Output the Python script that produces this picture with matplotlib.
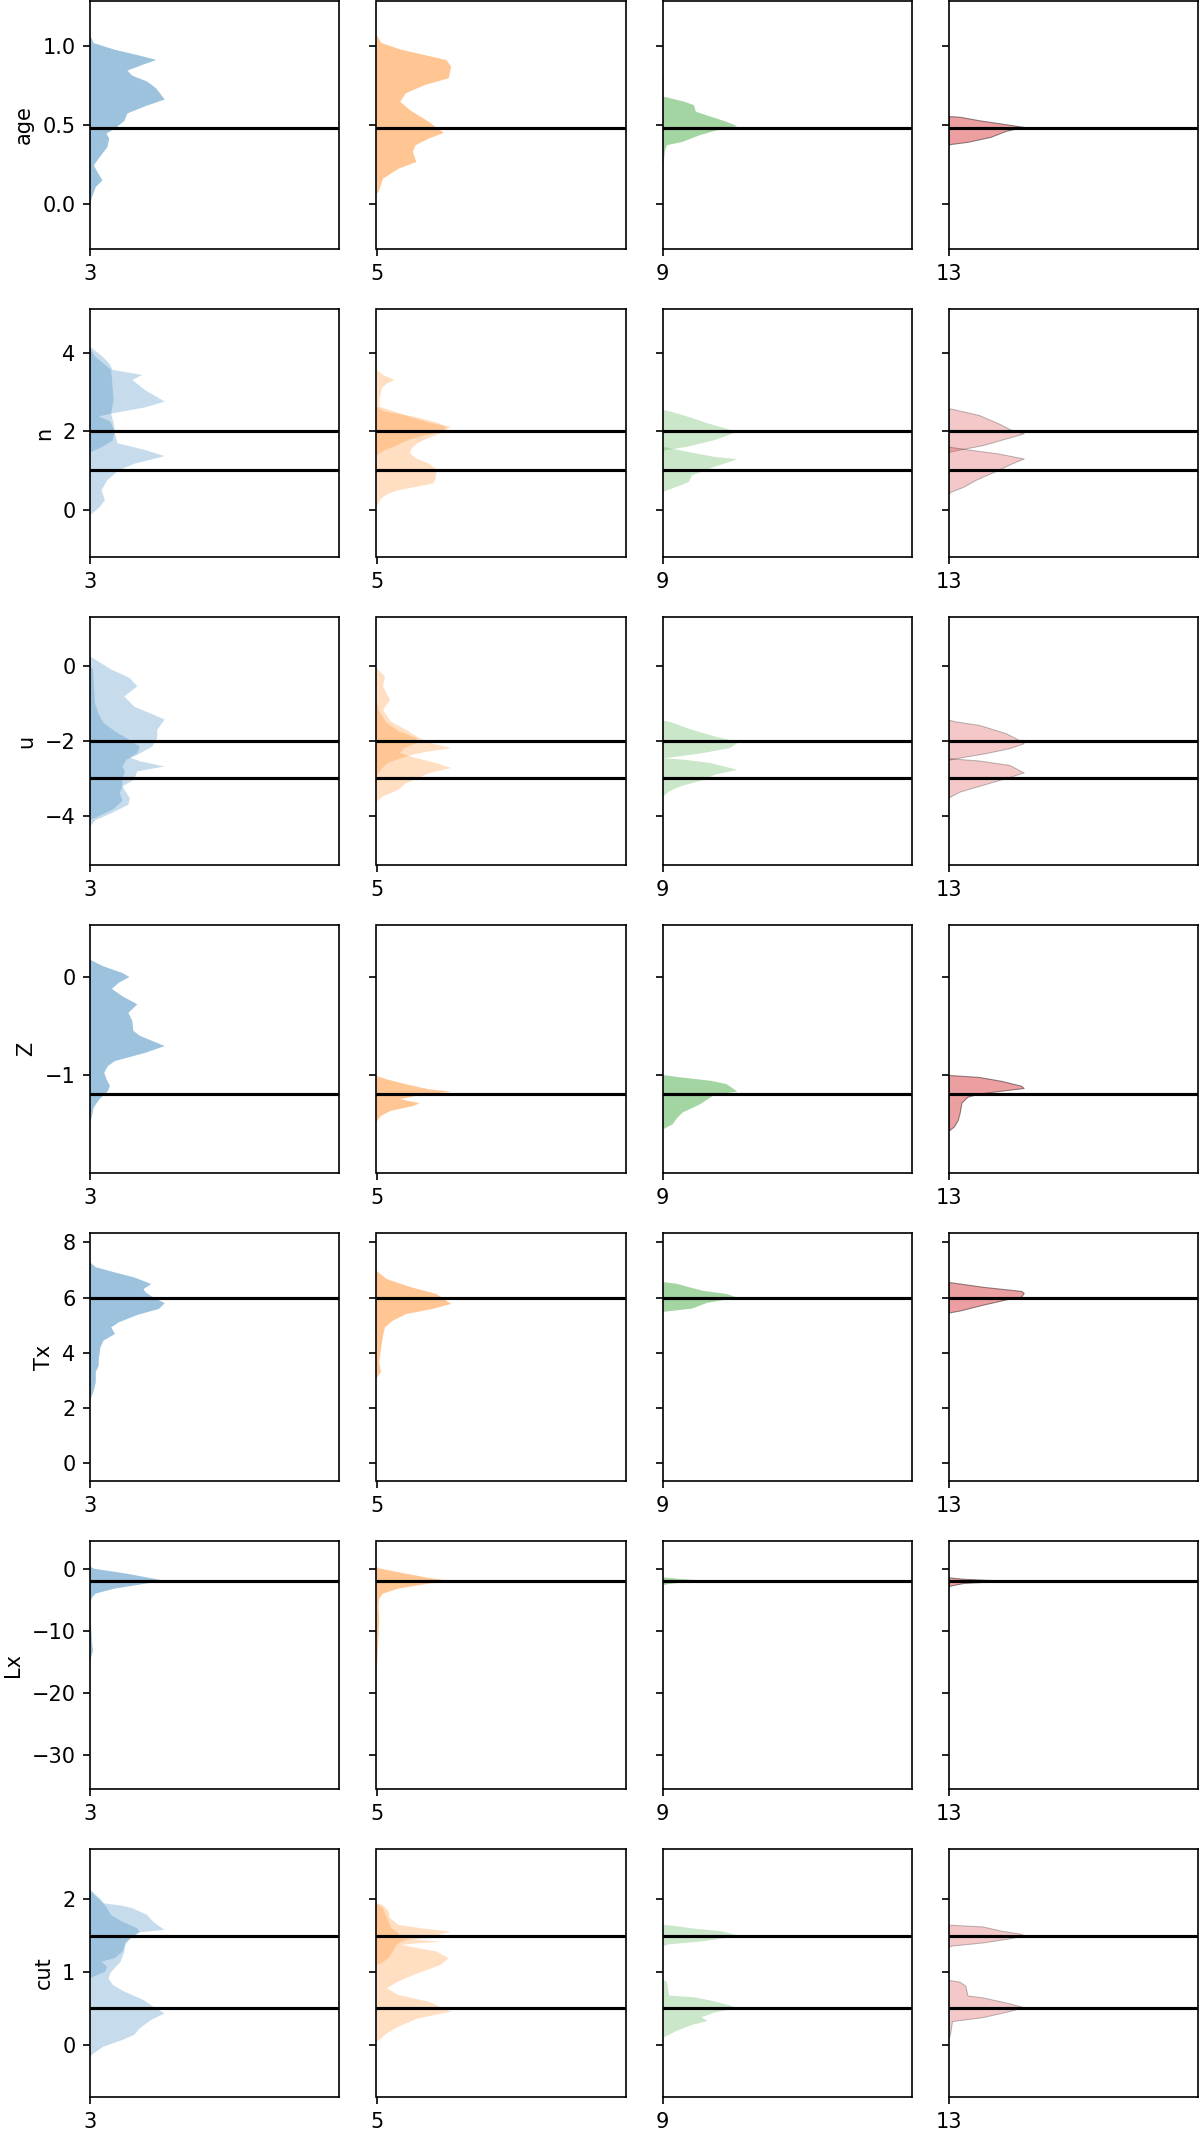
import matplotlib
matplotlib.use('Agg')
import matplotlib.pyplot as plt

# ---------------- data ----------------
params = ['age', 'n', 'u', 'Z', 'Tx', 'Lx', 'cut']
positions = [3, 5, 9, 13]
colors = ['#1f77b4', '#ff7f0e', '#2ca02c', '#d62728']

truth_age = [0.48]
truth_n = [2.0, 1.0]
truth_u = [-2.0, -3.0]
truth_Z = [-1.19]
truth_Tx = [6.0]
truth_Lx = [-2.0]
truth_cut = [1.5, 0.5]

ylim_age = (-0.28, 1.28)
ylim_n = (-1.21, 5.11)
ylim_u = (-5.32, 1.30)
ylim_Z = (-2.0, 0.53)
ylim_Tx = (-0.65, 8.34)
ylim_Lx = (-35.5, 4.46)
ylim_cut = (-0.72, 2.69)

yticks_age = [0.0, 0.5, 1.0]
yticks_n = [0, 2, 4]
yticks_u = [-4, -2, 0]
yticks_Z = [-1, 0]
yticks_Tx = [0, 2, 4, 6, 8]
yticks_Lx = [-30, -20, -10, 0]
yticks_cut = [0, 1, 2]

# density profiles (value, relative density) per column; one or two components
age_dens = [
    [[(1.067, 0), (1.015, 0.015), (0.973, 0.10), (0.94, 0.19), (0.909, 0.266), (0.878, 0.21),
      (0.842, 0.15), (0.81, 0.17), (0.773, 0.23), (0.73, 0.266), (0.66, 0.30), (0.619, 0.223),
      (0.573, 0.15), (0.526, 0.138), (0.478, 0.10), (0.446, 0.066), (0.415, 0.077), (0.362, 0.07),
      (0.30, 0.04), (0.246, 0.015), (0.204, 0.03), (0.152, 0.05), (0.11, 0.023), (0.046, 0.008), (0.0, 0)]],
    [[(1.067, 0), (1.015, 0.02), (0.973, 0.10), (0.909, 0.28), (0.867, 0.30), (0.794, 0.29),
      (0.752, 0.195), (0.70, 0.118), (0.646, 0.095), (0.594, 0.134), (0.52, 0.21), (0.45, 0.27),
      (0.415, 0.21), (0.373, 0.157), (0.33, 0.146), (0.267, 0.16), (0.225, 0.088), (0.162, 0.026),
      (0.078, 0.008), (0.067, 0)]],
    [[(0.836, 0), (0.8, 0.004), (0.678, 0.005), (0.667, 0.034), (0.646, 0.088), (0.625, 0.126),
      (0.583, 0.134), (0.552, 0.195), (0.52, 0.257), (0.493, 0.30), (0.463, 0.21), (0.436, 0.15),
      (0.394, 0.08), (0.373, 0.018), (0.341, 0.01), (0.25, 0.004), (0.194, 0)]],
    [[(0.556, 0), (0.552, 0.043), (0.53, 0.12), (0.505, 0.228), (0.488, 0.30), (0.463, 0.228),
      (0.425, 0.166), (0.394, 0.074), (0.38, 0.005), (0.375, 0)]],
]

n_dens = [
    [[(4.15, 0), (3.9, 0.05), (3.7, 0.08), (3.56, 0.09), (3.43, 0.21), (3.3, 0.17), (3.05, 0.22),
      (2.75, 0.30), (2.6, 0.22), (2.45, 0.09), (2.37, 0.035), (2.25, 0.08), (2.0, 0.10),
      (1.75, 0.09), (1.6, 0.05), (1.45, 0)],
     [(4.1, 0), (3.9, 0.02), (3.56, 0.085), (2.8, 0.095), (2.45, 0.085), (2.2, 0.095), (1.94, 0.10),
      (1.69, 0.11), (1.52, 0.22), (1.36, 0.30), (1.17, 0.18), (1.0, 0.115), (0.75, 0.07),
      (0.49, 0.046), (0.24, 0.06), (0.07, 0.04), (-0.15, 0)]],
    [[(3.56, 0), (3.42, 0.03), (3.3, 0.072), (3.2, 0.04), (3.1, 0.022), (2.8, 0.012), (2.62, 0.012),
      (2.5, 0.07), (2.35, 0.14), (2.2, 0.22), (2.11, 0.30), (2.0, 0.27), (1.9, 0.2), (1.8, 0.14),
      (1.69, 0.1), (1.6, 0.07), (1.5, 0.03), (1.38, 0)],
     [(2.62, 0), (2.5, 0.03), (2.37, 0.15), (2.2, 0.25), (2.1, 0.28), (1.94, 0.257), (1.8, 0.2),
      (1.69, 0.165), (1.55, 0.14), (1.43, 0.134), (1.3, 0.16), (1.17, 0.21), (1.05, 0.235),
      (0.91, 0.24), (0.75, 0.235), (0.66, 0.226), (0.58, 0.16), (0.49, 0.088), (0.4, 0.045),
      (0.28, 0.018), (0.15, 0.008), (0.07, 0)]],
    [[(2.54, 0), (2.5, 0.03), (2.37, 0.10), (2.2, 0.18), (1.98, 0.30), (1.77, 0.21), (1.6, 0.10),
      (1.51, 0.01), (1.45, 0)],
     [(1.6, 0), (1.47, 0.10), (1.34, 0.21), (1.28, 0.30), (1.09, 0.21), (0.87, 0.118), (0.7, 0.106),
      (0.58, 0.057), (0.45, 0.003), (0.42, 0)]],
    [[(2.58, 0), (2.54, 0.03), (2.41, 0.12), (2.2, 0.197), (2.03, 0.25), (1.94, 0.30), (1.81, 0.228),
      (1.64, 0.135), (1.53, 0.043), (1.47, 0)],
     [(1.6, 0), (1.51, 0.10), (1.43, 0.197), (1.3, 0.30), (1.17, 0.25), (0.96, 0.18), (0.75, 0.105),
      (0.58, 0.058), (0.45, 0.005), (0.4, 0)]],
]

u_dens = [
    [[(0.25, 0), (-0.1, 0.085), (-0.33, 0.16), (-0.55, 0.19), (-0.82, 0.138), (-1.09, 0.177),
      (-1.35, 0.27), (-1.44, 0.30), (-1.71, 0.27), (-1.93, 0.27), (-2.16, 0.25), (-2.38, 0.19),
      (-2.51, 0.146), (-2.69, 0.13), (-2.82, 0.14), (-3.05, 0.13), (-3.22, 0.13), (-3.54, 0.16),
      (-3.71, 0.154), (-3.94, 0.085), (-4.12, 0.023), (-4.29, 0)],
     [(0.0, 0), (-0.1, 0.012), (-1.0, 0.02), (-1.3, 0.035), (-1.53, 0.055), (-1.75, 0.1),
      (-1.93, 0.146), (-2.16, 0.2), (-2.33, 0.19), (-2.45, 0.16), (-2.55, 0.2), (-2.69, 0.30),
      (-2.82, 0.19), (-3.05, 0.177), (-3.22, 0.13), (-3.4, 0.12), (-3.6, 0.13), (-3.8, 0.1),
      (-3.94, 0.06), (-4.12, 0)]],
    [[(-0.06, 0), (-0.29, 0.034), (-0.55, 0.026), (-0.91, 0.054), (-1.18, 0.026), (-1.49, 0.057),
      (-1.71, 0.118), (-1.93, 0.172), (-2.07, 0.22), (-2.2, 0.30), (-2.3, 0.2), (-2.38, 0.14),
      (-2.51, 0.08), (-2.6, 0.045), (-2.75, 0.02), (-2.96, 0)],
     [(-0.9, 0), (-1.2, 0.01), (-1.53, 0.04), (-1.75, 0.09), (-1.93, 0.16), (-2.07, 0.16),
      (-2.2, 0.11), (-2.33, 0.095), (-2.45, 0.15), (-2.6, 0.24), (-2.73, 0.30), (-2.87, 0.21),
      (-3.14, 0.118), (-3.31, 0.088), (-3.49, 0.026), (-3.63, 0)]],
    [[(-1.46, 0), (-1.5, 0.03), (-1.71, 0.118), (-1.89, 0.21), (-2.02, 0.295), (-2.07, 0.30),
      (-2.2, 0.27), (-2.33, 0.165), (-2.47, 0.01), (-2.5, 0)],
     [(-2.47, 0), (-2.51, 0.088), (-2.6, 0.195), (-2.78, 0.30), (-2.91, 0.21), (-3.05, 0.165),
      (-3.22, 0.072), (-3.36, 0.026), (-3.51, 0)]],
    [[(-1.44, 0), (-1.48, 0.02), (-1.58, 0.12), (-1.8, 0.228), (-1.98, 0.28), (-2.07, 0.30),
      (-2.2, 0.243), (-2.33, 0.15), (-2.47, 0.028), (-2.51, 0)],
     [(-2.47, 0), (-2.53, 0.12), (-2.65, 0.243), (-2.78, 0.28), (-2.85, 0.30), (-3.0, 0.228),
      (-3.18, 0.135), (-3.36, 0.043), (-3.49, 0.005), (-3.52, 0)]],
]

Z_dens = [
    [[(0.176, 0), (0.108, 0.054), (0.04, 0.13), (0.0, 0.158), (-0.06, 0.115), (-0.122, 0.088),
      (-0.197, 0.13), (-0.28, 0.19), (-0.366, 0.154), (-0.45, 0.17), (-0.55, 0.174), (-0.6, 0.2),
      (-0.705, 0.30), (-0.773, 0.223), (-0.858, 0.10), (-0.908, 0.072), (-0.976, 0.057),
      (-1.044, 0.066), (-1.11, 0.08), (-1.163, 0.072), (-1.247, 0.038), (-1.33, 0.015),
      (-1.45, 0.005), (-1.48, 0)]],
    [[(-1.01, 0), (-1.044, 0.04), (-1.095, 0.118), (-1.146, 0.21), (-1.17, 0.30), (-1.21, 0.165),
      (-1.247, 0.095), (-1.288, 0.172), (-1.315, 0.15), (-1.366, 0.057), (-1.417, 0.018),
      (-1.478, 0)]],
    [[(-1.0, 0), (-1.02, 0.057), (-1.06, 0.195), (-1.093, 0.257), (-1.133, 0.28), (-1.17, 0.30),
      (-1.2, 0.21), (-1.24, 0.186), (-1.3, 0.15), (-1.383, 0.08), (-1.444, 0.057), (-1.504, 0.04),
      (-1.544, 0.01), (-1.56, 0)]],
    [[(-1.0, 0), (-1.02, 0.12), (-1.06, 0.21), (-1.11, 0.29), (-1.133, 0.30), (-1.16, 0.21),
      (-1.19, 0.12), (-1.222, 0.074), (-1.282, 0.05), (-1.383, 0.043), (-1.46, 0.035),
      (-1.524, 0.02), (-1.565, 0)]],
]

Tx_dens = [
    [[(7.28, 0), (7.1, 0.023), (6.91, 0.10), (6.73, 0.177), (6.49, 0.246), (6.31, 0.215),
      (6.19, 0.223), (6.0, 0.254), (5.8, 0.30), (5.59, 0.277), (5.37, 0.19), (5.1, 0.115),
      (4.92, 0.085), (4.68, 0.10), (4.44, 0.054), (4.2, 0.042), (3.78, 0.035), (3.54, 0.035),
      (3.3, 0.023), (2.93, 0.023), (2.63, 0.015), (2.27, 0)]],
    [[(6.97, 0), (6.67, 0.04), (6.37, 0.14), (6.13, 0.24), (5.77, 0.30), (5.59, 0.226),
      (5.4, 0.118), (5.16, 0.065), (4.92, 0.034), (4.62, 0.026), (4.14, 0.018), (3.66, 0.011),
      (3.3, 0.018), (3.11, 0.003), (3.05, 0)]],
    [[(6.56, 0), (6.5, 0.057), (6.39, 0.10), (6.24, 0.165), (6.13, 0.257), (6.0, 0.30),
      (5.81, 0.18), (5.6, 0.118), (5.49, 0.01), (5.46, 0)]],
    [[(6.56, 0), (6.5, 0.05), (6.39, 0.135), (6.24, 0.29), (6.17, 0.30), (6.03, 0.29),
      (5.93, 0.228), (5.74, 0.135), (5.53, 0.043), (5.46, 0)]],
]

Lx_dens = [
    [[(0.38, 0), (0.0, 0.015), (-0.8, 0.146), (-1.6, 0.254), (-1.95, 0.30), (-2.4, 0.223),
      (-3.2, 0.10), (-4.0, 0.023), (-4.6, 0.008), (-5.4, 0.003), (-7.5, 0.003), (-9.7, 0.005),
      (-12.0, 0.008), (-13.2, 0.012), (-14.5, 0.003), (-15.6, 0)]],
    [[(0.27, 0), (0.0, 0.015), (-0.8, 0.118), (-1.5, 0.21), (-1.95, 0.29), (-2.4, 0.21),
      (-3.2, 0.088), (-4.0, 0.026), (-4.8, 0.011), (-5.9, 0.008), (-8.1, 0.011), (-10.8, 0.008),
      (-15.1, 0.003), (-17.2, 0)]],
    [[(-1.4, 0), (-1.6, 0.05), (-1.8, 0.12), (-1.95, 0.30), (-2.05, 0.2), (-2.2, 0.08),
      (-2.5, 0.02), (-2.7, 0)]],
    [[(-1.4, 0), (-1.6, 0.05), (-1.8, 0.15), (-1.95, 0.30), (-2.1, 0.15), (-2.3, 0.06),
      (-2.6, 0.02), (-2.8, 0)]],
]

cut_dens = [
    [[(2.13, 0), (2.05, 0.02), (1.945, 0.054), (1.91, 0.13), (1.876, 0.17), (1.784, 0.23),
      (1.716, 0.246), (1.647, 0.27), (1.578, 0.30), (1.546, 0.2), (1.486, 0.17), (1.394, 0.146),
      (1.28, 0.13), (1.19, 0.10), (1.14, 0.046), (1.07, 0.069), (1.0, 0.06), (0.96, 0.03), (0.91, 0)],
     [(2.13, 0), (2.01, 0.04), (1.876, 0.069), (1.78, 0.085), (1.69, 0.13), (1.6, 0.19),
      (1.546, 0.2), (1.486, 0.17), (1.394, 0.14), (1.28, 0.138), (1.14, 0.123), (1.0, 0.085),
      (0.913, 0.074), (0.82, 0.092), (0.73, 0.138), (0.615, 0.215), (0.523, 0.254), (0.43, 0.30),
      (0.34, 0.246), (0.225, 0.2), (0.133, 0.177), (0.064, 0.13), (-0.028, 0.054), (-0.12, 0.015),
      (-0.165, 0)]],
    [[(1.945, 0), (1.92, 0.026), (1.83, 0.049), (1.74, 0.054), (1.647, 0.088), (1.6, 0.18),
      (1.555, 0.30), (1.52, 0.257), (1.463, 0.21), (1.44, 0.12), (1.4, 0.09), (1.37, 0.08),
      (1.3, 0.07), (1.19, 0.049), (1.12, 0.02), (1.1, 0)],
     [(1.945, 0), (1.876, 0.026), (1.69, 0.049), (1.6, 0.06), (1.53, 0.09), (1.463, 0.09),
      (1.43, 0.2), (1.417, 0.265), (1.39, 0.15), (1.37, 0.1), (1.28, 0.24), (1.19, 0.29),
      (1.096, 0.257), (0.96, 0.15), (0.87, 0.088), (0.775, 0.042), (0.683, 0.088), (0.59, 0.21),
      (0.454, 0.30), (0.36, 0.165), (0.248, 0.088), (0.156, 0.042), (0.064, 0.01), (0.03, 0)]],
    [[(1.65, 0), (1.635, 0.04), (1.595, 0.13), (1.557, 0.24), (1.524, 0.28), (1.5, 0.30),
      (1.46, 0.24), (1.416, 0.15), (1.38, 0.026), (1.35, 0)],
     [(0.89, 0), (0.865, 0.018), (0.676, 0.026), (0.65, 0.13), (0.595, 0.21), (0.54, 0.27),
      (0.5, 0.30), (0.443, 0.21), (0.378, 0.157), (0.324, 0.18), (0.27, 0.118), (0.19, 0.057),
      (0.108, 0.01), (0.08, 0)]],
    [[(1.65, 0), (1.625, 0.135), (1.567, 0.21), (1.524, 0.29), (1.5, 0.30), (1.46, 0.24),
      (1.405, 0.135), (1.362, 0.012), (1.35, 0)],
     [(0.89, 0), (0.865, 0.043), (0.81, 0.066), (0.676, 0.074), (0.65, 0.135), (0.57, 0.24),
      (0.516, 0.30), (0.46, 0.24), (0.378, 0.135), (0.324, 0.012), (0.16, 0.005), (0.1, 0)]],
]

rows = [
    ('age', age_dens, truth_age, ylim_age, yticks_age),
    ('n', n_dens, truth_n, ylim_n, yticks_n),
    ('u', u_dens, truth_u, ylim_u, yticks_u),
    ('Z', Z_dens, truth_Z, ylim_Z, yticks_Z),
    ('Tx', Tx_dens, truth_Tx, ylim_Tx, yticks_Tx),
    ('Lx', Lx_dens, truth_Lx, ylim_Lx, yticks_Lx),
    ('cut', cut_dens, truth_cut, ylim_cut, yticks_cut),
]

# ---------------- layout ----------------
W, H = 1200, 2131
DPI = 150
fig = plt.figure(figsize=(W / DPI, H / DPI), dpi=DPI)
plt.rcParams['font.size'] = 10

col_left = [90, 376.5, 662.5, 949]
ax_w = 249
ax_h = 248
row_top0 = 1
row_pitch = 308

for r, (name, dens, truths, ylim, yticks) in enumerate(rows):
    top = row_top0 + r * row_pitch
    for c, pos in enumerate(positions):
        ax = fig.add_axes([col_left[c] / W, (H - top - ax_h) / H, ax_w / W, ax_h / H])
        comps = dens[c]
        # a single true value means both components share the same posterior
        layers = comps * 2 if len(truths) == 1 else comps
        for prof in layers:
            ys = [p[0] for p in prof]
            ds = [pos + p[1] for p in prof]
            kw = dict(facecolor=colors[c], alpha=0.25, linewidth=0)
            if c == 3:
                kw.update(edgecolor='k', linewidth=0.5)
            ax.fill_betweenx(ys, pos, ds, **kw)
        for t in truths:
            ax.axhline(t, color='k', lw=1.5, zorder=3)
        ax.set_xlim(pos, pos + 1)
        ax.set_xticks([pos])
        ax.set_ylim(*ylim)
        ax.set_yticks(yticks)
        if c == 0:
            ax.set_ylabel(name)
        else:
            ax.tick_params(labelleft=False)

fig.savefig('out.png', dpi=DPI)
